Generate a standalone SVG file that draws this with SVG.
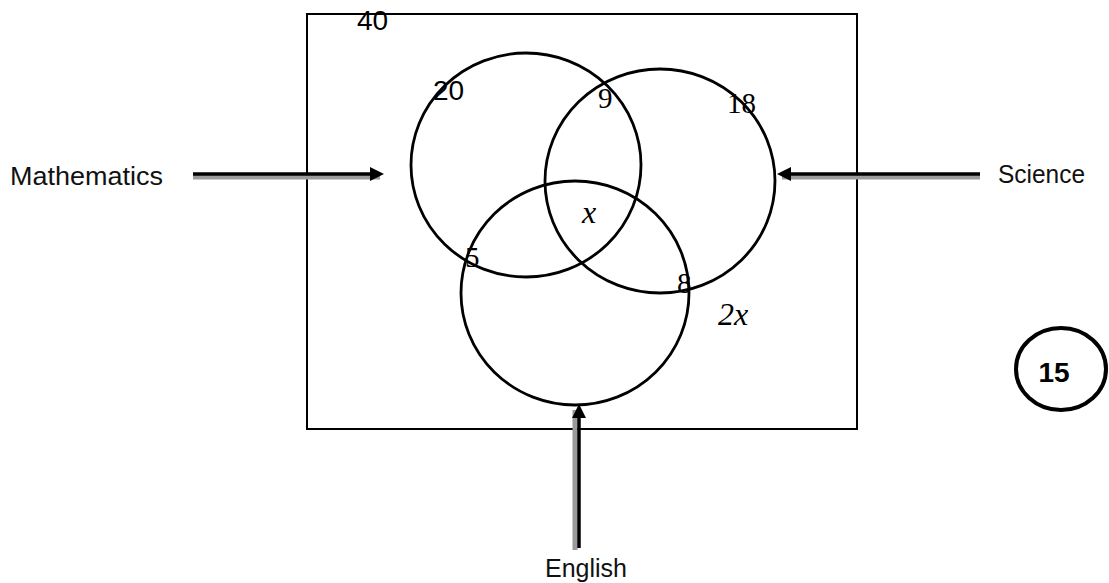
<svg xmlns="http://www.w3.org/2000/svg" width="1109" height="583" viewBox="0 0 1109 583">
<style>
.set{fill:none;stroke:#000;stroke-width:2.8}
.lbl{font-family:"Liberation Sans",Arial,sans-serif;font-size:26px;fill:#111}
.num{font-family:"Liberation Serif","Times New Roman",serif;font-size:29px;fill:#000}
.var{font-family:"Liberation Serif","Times New Roman",serif;font-style:italic;font-size:32px;fill:#000}
.sans{font-family:"Liberation Sans",Arial,sans-serif;font-size:28px;fill:#000}
.shadow{stroke:#9a9a9a;stroke-width:5;fill:none}
.shaft{stroke:#000;stroke-width:3.5;fill:none}
.head{fill:#000}
</style>
<rect width="1109" height="583" fill="#fff"/>
<g id="universe">
<rect x="307" y="14" width="550" height="415" fill="none" stroke="#000" stroke-width="2"/>
<text class="sans" x="357" y="30">40</text>
</g>
<g id="mathematics-set">
<ellipse class="set" cx="526" cy="165" rx="115" ry="112"/>
<text class="sans" x="433" y="100">20</text>
</g>
<g id="science-set">
<ellipse class="set" cx="660" cy="181" rx="115" ry="112"/>
<text class="num" x="727" y="113">18</text>
</g>
<g id="english-set">
<ellipse class="set" cx="575" cy="293" rx="114" ry="112"/>
</g>
<g id="region-labels">
<text class="num" x="598" y="108">9</text>
<text class="var" x="582" y="223">x</text>
<text class="num" x="465" y="267">5</text>
<text class="num" x="677" y="293">8</text>
<text class="var" x="718" y="325">2x</text>
</g>
<g id="connectors">
<line class="shadow" x1="193" y1="177" x2="380" y2="177"/>
<line class="shaft" x1="193" y1="174" x2="372" y2="174"/>
<polygon class="head" points="384,174 370,167 370,181"/>
<line class="shadow" x1="980" y1="177" x2="782" y2="177"/>
<line class="shaft" x1="980" y1="174" x2="789" y2="174"/>
<polygon class="head" points="777,174 791,167 791,181"/>
<line class="shadow" x1="575" y1="550" x2="575" y2="410"/>
<line class="shaft" x1="579" y1="548" x2="579" y2="416"/>
<polygon class="head" points="579,404 572,418 586,418"/>
</g>
<g id="mathematics-label"><text class="lbl" x="10" y="185" textLength="153" lengthAdjust="spacingAndGlyphs">Mathematics</text></g>
<g id="science-label"><text class="lbl" x="998" y="183" textLength="87" lengthAdjust="spacingAndGlyphs">Science</text></g>
<g id="english-label"><text class="lbl" x="545" y="577" textLength="82" lengthAdjust="spacingAndGlyphs">English</text></g>
<g id="mark-15">
<ellipse cx="1061" cy="369" rx="45" ry="41" fill="none" stroke="#000" stroke-width="4"/>
<text x="1054" y="382" text-anchor="middle" font-family="Liberation Sans,Arial,sans-serif" font-weight="bold" font-size="28">15</text>
</g>
</svg>
